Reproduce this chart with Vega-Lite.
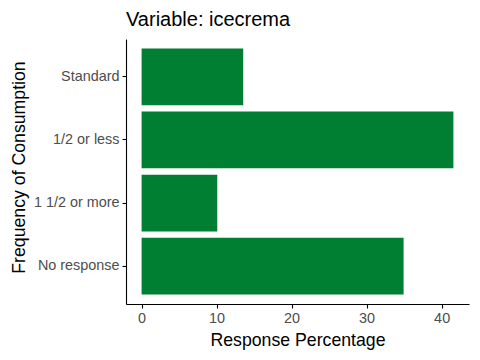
{
  "$schema": "https://vega.github.io/schema/vega-lite/v6.json",
  "width": 343,
  "height": 265,
  "autosize": "none",
  "padding": {"left": 126, "top": 39, "right": 11, "bottom": 56},
  "background": "white",
  "title": {
    "text": "Variable: icecrema",
    "anchor": "start",
    "frame": "group",
    "font": "Liberation Sans",
    "fontSize": 20,
    "fontWeight": "normal",
    "color": "black",
    "offset": 9
  },
  "data": {
    "values": [
      {"category": "Standard", "pct": 13.55},
      {"category": "1/2 or less", "pct": 41.57},
      {"category": "1 1/2 or more", "pct": 10.09},
      {"category": "No response", "pct": 34.93}
    ]
  },
  "mark": {"type": "bar", "color": "#007F32"},
  "encoding": {
    "y": {
      "field": "category",
      "type": "nominal",
      "sort": ["Standard", "1/2 or less", "1 1/2 or more", "No response"],
      "scale": {"paddingInner": 0.1, "paddingOuter": 0.15},
      "axis": {
        "title": "Frequency of Consumption",
        "titleFont": "Liberation Sans",
        "titleFontSize": 17.7,
        "titleFontWeight": "normal",
        "titleColor": "black",
        "titleX": -98,
        "titleY": 128,
        "labelFont": "Liberation Sans",
        "labelFontSize": 14.4,
        "labelColor": "#4D4D4D",
        "labelPadding": 3,
        "tickSize": 4,
        "tickColor": "black",
        "domainColor": "black",
        "grid": false
      }
    },
    "x": {
      "field": "pct",
      "type": "quantitative",
      "scale": {"domain": [-2.08, 43.65], "nice": false, "zero": false},
      "axis": {
        "title": "Response Percentage",
        "values": [0, 10, 20, 30, 40],
        "titleFont": "Liberation Sans",
        "titleFontSize": 17.7,
        "titleFontWeight": "normal",
        "titleColor": "black",
        "titlePadding": 7,
        "labelFont": "Liberation Sans",
        "labelFontSize": 14.4,
        "labelColor": "#4D4D4D",
        "labelPadding": 3,
        "tickSize": 4,
        "tickColor": "black",
        "domainColor": "black",
        "grid": false
      }
    }
  },
  "config": {"view": {"stroke": null}, "axis": {"domainWidth": 1.1, "tickWidth": 1.1}}
}
